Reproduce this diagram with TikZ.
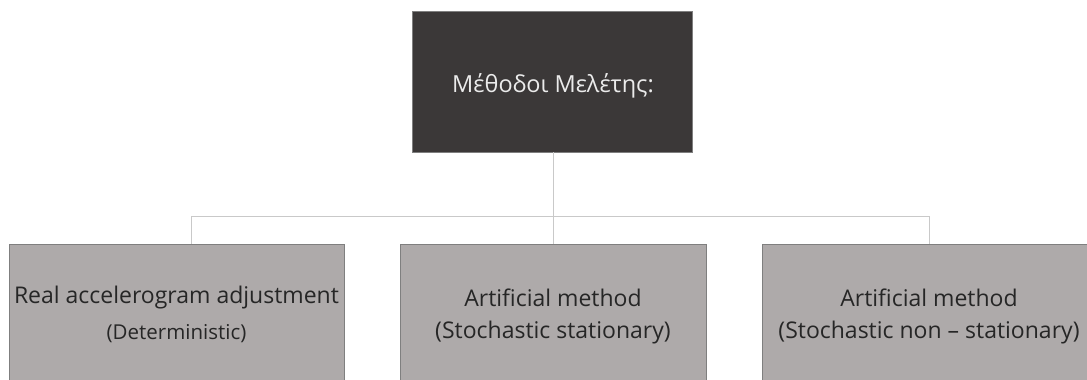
\documentclass[tikz,border=0pt]{standalone}
\usepackage{fontspec}
\setmainfont{Open Sans}
\definecolor{headfill}{HTML}{3B3838}
\definecolor{leaffill}{HTML}{AEAAAA}
\definecolor{boxline}{HTML}{7F7F7F}
\definecolor{linkline}{HTML}{C9C9C9}
\tikzset{
  headbox/.style={draw=boxline, line width=0.8pt, fill=headfill, inner sep=0pt},
  leafbox/.style={draw=boxline, line width=0.8pt, fill=leaffill, inner sep=0pt},
  link/.style={draw=linkline, line width=0.8pt},
  bigtxt/.style={font=\fontsize{23}{27}\selectfont, text=black!85, inner sep=0pt},
  smalltxt/.style={font=\fontsize{20.5}{24}\selectfont, text=black!85, inner sep=0pt},
}
\begin{document}
\begin{tikzpicture}[x=1pt,y=-1pt]
  \useasboundingbox (0,0) rectangle (1087,380);
  \clip (0,0) rectangle (1087,380);
  % head box
  \node[headbox, minimum width=280pt, minimum height=141pt] (head) at (552,81.5) {};
  \node[font=\fontsize{23.5}{27}\selectfont, text=white!92!black, inner sep=0pt] (headtxt) at (553,86) {Μέθοδοι Μελέτης:};
  % leaf boxes (run past the lower and right edges)
  \node[leafbox, anchor=north west, minimum width=335pt, minimum height=160pt] (leafA) at (9,244) {};
  \node[leafbox, anchor=north west, minimum width=306pt, minimum height=160pt] (leafB) at (400,244) {};
  \node[leafbox, anchor=north west, minimum width=334pt, minimum height=160pt] (leafC) at (762,244) {};
  % connectors
  \coordinate (busL) at (191,216);
  \coordinate (busR) at (929,216);
  \draw[link] (head.south -| leafB.north) -- (leafB.north);
  \draw[link] (leafA.north -| busL) -- (busL) -- (busR) -- (leafC.north -| busR);
  % labels
  \node[bigtxt] (a1) at (176.5,298) {Real accelerogram adjustment};
  \node[smalltxt] (a2) at (176.5,334) {(Deterministic)};
  \node[bigtxt] (b1) at (553,298) {Artificial method};
  \node[bigtxt] (b2) at (553,333) {(Stochastic stationary)};
  \node[bigtxt] (c1) at (929,298) {Artificial method};
  \node[bigtxt] (c2) at (929,333) {(Stochastic non – stationary)};
\end{tikzpicture}
\end{document}
